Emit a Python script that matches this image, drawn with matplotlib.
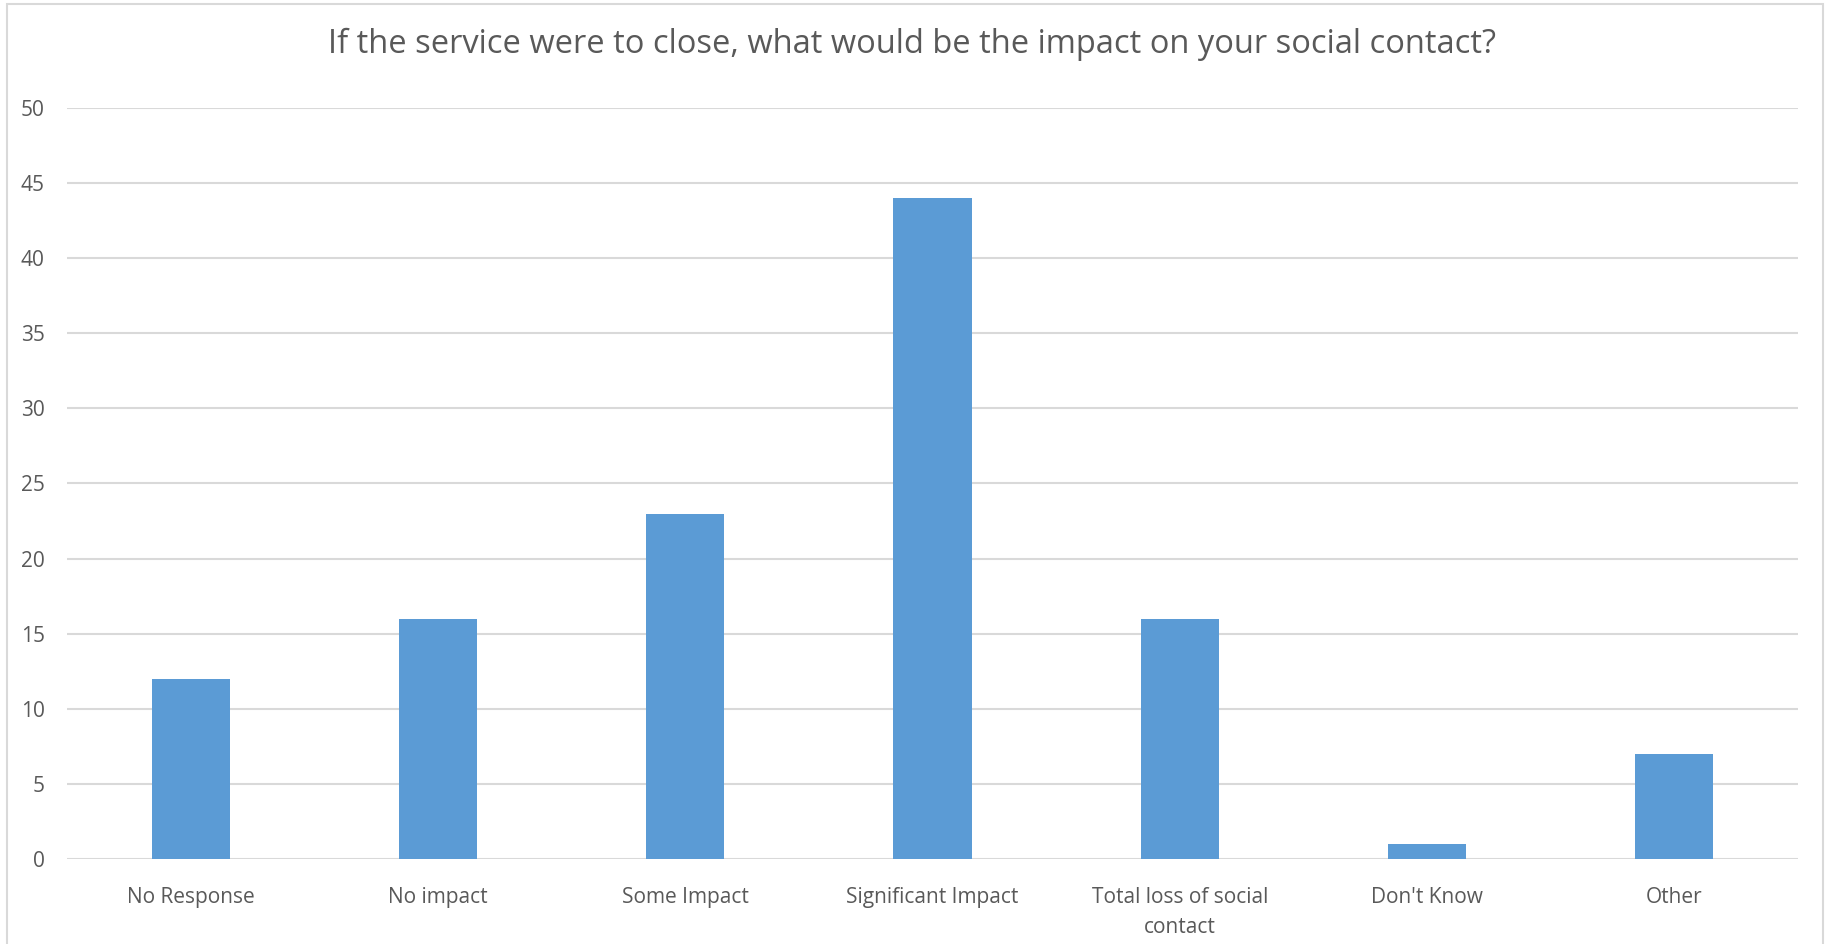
import matplotlib.pyplot as plt
import numpy as np

categories = ['No Response', 'No impact', 'Some Impact', 'Significant Impact',
              'Total loss of social\ncontact', "Don't Know", 'Other']
counts = [12, 16, 23, 44, 16, 1, 7]
yticks = [0, 5, 10, 15, 20, 25, 30, 35, 40, 45, 50]

plt.rcParams['font.family'] = ['Open Sans', 'DejaVu Sans']

W, H = 1825, 944
fig = plt.figure(figsize=(W / 100, H / 100), dpi=100)

# outer chart frame
fig.patches.append(plt.Rectangle((7 / W, -0.01), (1823 - 7) / W, (H - 4) / H + 0.01,
                                 transform=fig.transFigure, fill=False,
                                 edgecolor='#D9D9D9', linewidth=1.5))

ax = fig.add_axes([67 / W, 1 - 859 / H, (1798 - 67) / W, (859 - 108) / H])
x = np.arange(len(categories))
ax.bar(x, counts, width=0.316, color='#5B9BD5', zorder=3)

ax.set_xlim(-0.5, len(categories) - 0.5)
ax.set_ylim(0, 50)
ax.set_yticks(yticks)
ax.set_xticks(x)
ax.set_xticklabels(categories, fontsize=15, color='#595959', linespacing=1.6)
ax.tick_params(axis='y', labelsize=15, labelcolor='#595959', length=0, pad=16)
ax.tick_params(axis='x', length=0, pad=20)

ax.grid(axis='y', color='#D9D9D9', linewidth=1.5, zorder=0)
for s in ax.spines.values():
    s.set_visible(False)

fig.text(0.5, 1 - 44 / H, 'If the service were to close, what would be the impact on your social contact?',
         ha='center', va='center', fontsize=23.5, color='#595959')

fig.savefig('out.png', dpi=100)
